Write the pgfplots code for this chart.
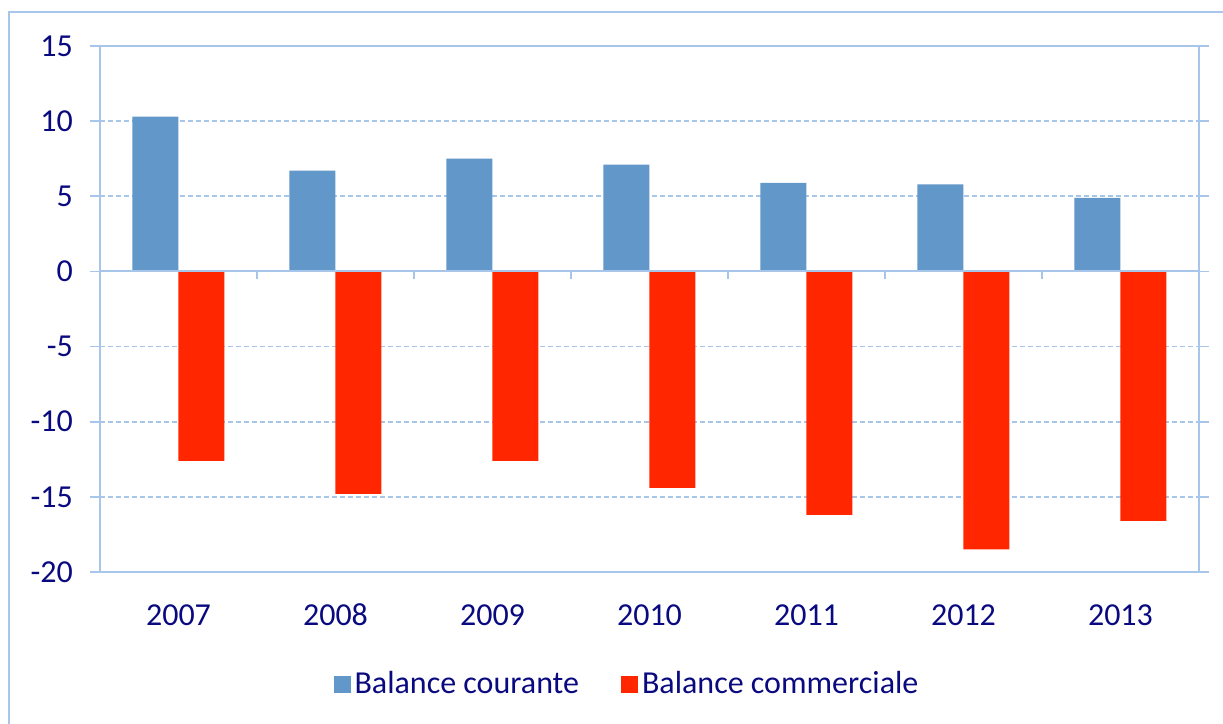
\documentclass[border=0pt]{standalone}
\usepackage{fontspec}
\setmainfont{Carlito}
\usepackage{pgfplots}
\pgfplotsset{compat=1.18}
\definecolor{bleu}{HTML}{6197C9}
\definecolor{rouge}{HTML}{FF2600}
\definecolor{cadre}{HTML}{A8C6EA}
\definecolor{texte}{HTML}{0A0A80}
\begin{document}
\begin{tikzpicture}
\useasboundingbox (-50pt,-76pt) rectangle (561.5pt,286pt);
\draw[cadre, line width=1pt] (-45.5pt,-76pt) -- (-45.5pt,280pt) -- (561.5pt,280pt);
\begin{axis}[
    at={(0,0)}, anchor=south west,
    scale only axis,
    width=549.5pt, height=263pt,
    ybar=0pt, bar width=23pt,
    xmin=-0.5, xmax=6.5,
    ymin=-20, ymax=15,
    ytick={-20,-15,...,15},
    xtick={0,...,6},
    xticklabels={2007,2008,2009,2010,2011,2012,2013},
    x tick style={draw=none},
    y tick style={cadre, line width=0.8pt},
    tick align=outside, major tick length=5pt,
    axis line style={cadre, line width=1pt},
    ymajorgrids=true,
    grid style={cadre, line width=0.8pt, dash pattern=on 2.5pt off 1.5pt},
    tick label style={font=\fontsize{16}{19}\selectfont, text=texte},
    /pgf/number format/assume math mode=true,
    yticklabel style={xshift=-5pt},
    xticklabel style={yshift=-7pt, text height=11pt, text depth=0pt},
    legend style={at={(0.4804,-0.213)}, anchor=center, draw=none, fill=none,
        legend columns=-1, font=\fontsize{16}{19}\selectfont, text=texte,
        /tikz/every even column/.append style={column sep=19pt}},
    legend image code/.code={\fill[#1,draw=none] (0pt,-4.25pt) rectangle (8.5pt,4.25pt);},
    clip=false,
]
\addplot[fill=bleu, draw=none] coordinates {
    (0,10.3) (1,6.7) (2,7.5) (3,7.1) (4,5.9) (5,5.8) (6,4.9)
};
\addlegendentry{Balance courante}
\addplot[fill=rouge, draw=none] coordinates {
    (0,-12.6) (1,-14.8) (2,-12.6) (3,-14.4) (4,-16.2) (5,-18.5) (6,-16.6)
};
\addlegendentry{Balance commerciale}
\draw[cadre, line width=1pt] (axis cs:-0.5,0) -- (axis cs:6.5,0);
\pgfplotsinvokeforeach{0.5,1.5,2.5,3.5,4.5,5.5}{
  \draw[cadre, line width=0.8pt] (axis cs:#1,0) -- ([yshift=-4pt]axis cs:#1,0);
}
\end{axis}
\end{tikzpicture}
\end{document}
